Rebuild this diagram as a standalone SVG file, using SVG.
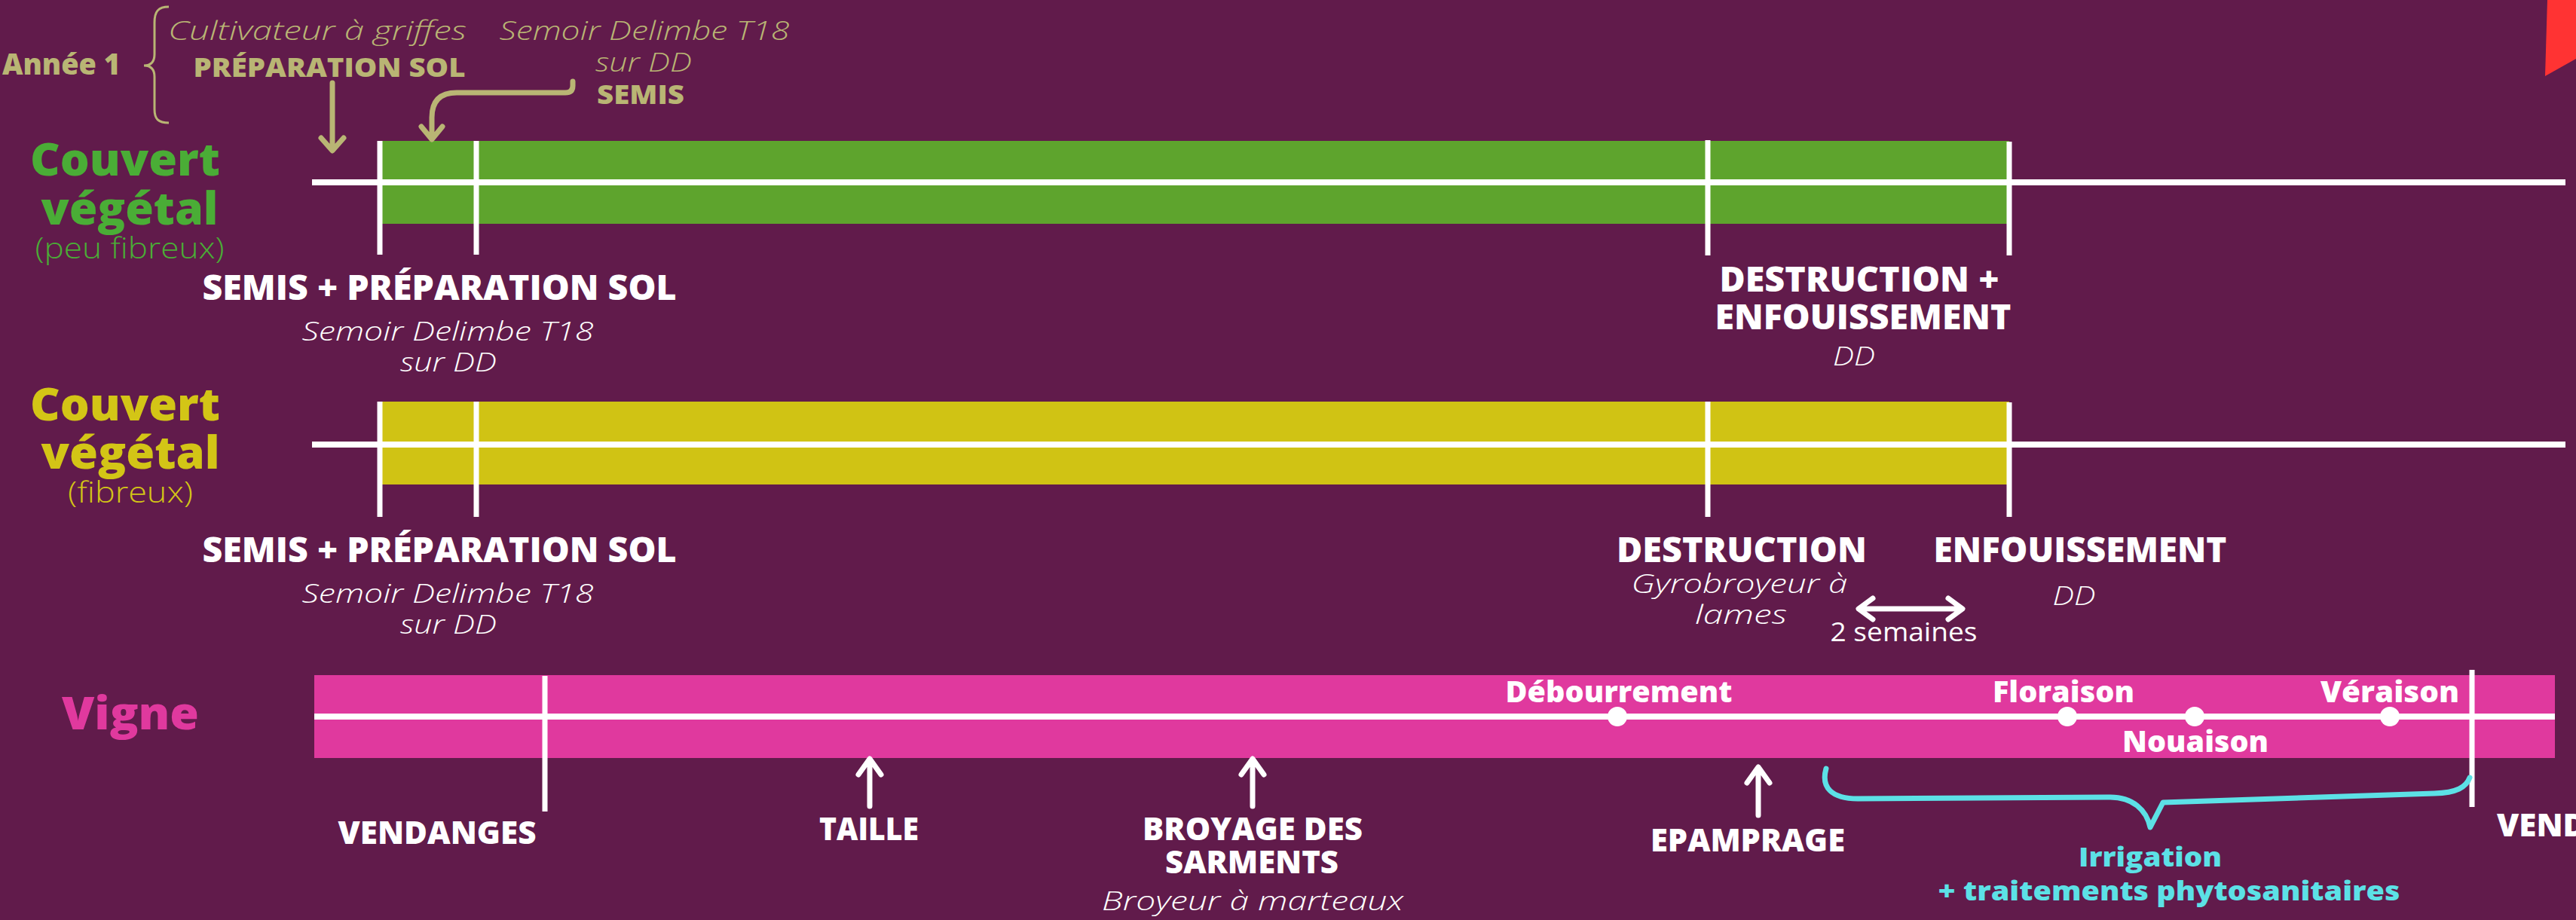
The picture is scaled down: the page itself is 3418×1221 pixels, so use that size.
<svg xmlns="http://www.w3.org/2000/svg" width="3418" height="1221" viewBox="0 0 3418 1221">
<style>
text { font-family: "Open Sans", "Liberation Sans", sans-serif; }
.b { font-weight: 800; }
.it { font-style: italic; font-weight: 300; }
.l { font-weight: 300; }
.r { font-weight: 400; }
.w { fill: #ffffff; }
.k { fill: #B9B574; }
.g { fill: #4AAD36; }
.y { fill: #D3C516; }
.p { fill: #E0399E; }
.c { fill: #5CE1E6; }
.m { text-anchor: middle; }
.axis { stroke: #ffffff; stroke-width: 8; }
.tick { stroke: #ffffff; stroke-width: 7; }
.arrW { stroke: #ffffff; stroke-width: 7; fill: none; stroke-linecap: round; stroke-linejoin: round; }
.arrK { stroke: #B9B574; stroke-width: 7; fill: none; stroke-linecap: round; stroke-linejoin: round; }
.dot { fill: #ffffff; }
</style>
<rect x="0" y="0" width="3418" height="1221" fill="#611B4B"/>
<polygon points="3380,0 3418,0 3418,78 3377,101" fill="#FF3333"/>

<g id="annee1">
<text class="b k" x="3" y="99" font-size="38" textLength="157" lengthAdjust="spacingAndGlyphs">Année 1</text>
<path d="M224,9 C210,9 205,15 205,30 L205,72 C205,82 200,87 191,87 C200,87 205,92 205,102 L205,145 C205,158 210,163 224,163" fill="none" stroke="#B9B574" stroke-width="3"/>
<text class="it k m" x="421" y="53" font-size="35" textLength="396" lengthAdjust="spacingAndGlyphs">Cultivateur à griffes</text>
<text class="b k m" x="437" y="102" font-size="36" textLength="361" lengthAdjust="spacingAndGlyphs">PRÉPARATION SOL</text>
<text class="it k m" x="855" y="53" font-size="35" textLength="385" lengthAdjust="spacingAndGlyphs">Semoir Delimbe T18</text>
<text class="it k m" x="854" y="95" font-size="35" textLength="128" lengthAdjust="spacingAndGlyphs">sur DD</text>
<text class="b k m" x="850" y="138" font-size="35" textLength="116" lengthAdjust="spacingAndGlyphs">SEMIS</text>
</g>

<g id="label-couvert-peu-fibreux">
<text class="b g m" x="166" y="233" font-size="60" textLength="252" lengthAdjust="spacingAndGlyphs">Couvert</text>
<text class="b g m" x="172" y="298" font-size="60" textLength="235" lengthAdjust="spacingAndGlyphs">végétal</text>
<text class="l g m" x="172" y="343" font-size="38" textLength="251" lengthAdjust="spacingAndGlyphs">(peu fibreux)</text>
</g>

<g id="label-couvert-fibreux">
<text class="b y m" x="166" y="558" font-size="60" textLength="252" lengthAdjust="spacingAndGlyphs">Couvert</text>
<text class="b y m" x="173" y="622" font-size="60" textLength="237" lengthAdjust="spacingAndGlyphs">végétal</text>
<text class="l y m" x="173" y="667" font-size="38" textLength="166" lengthAdjust="spacingAndGlyphs">(fibreux)</text>
</g>

<g id="label-vigne">
<text class="b p m" x="173" y="968" font-size="60" textLength="182" lengthAdjust="spacingAndGlyphs">Vigne</text>
</g>

<g id="track-couvert-peu-fibreux">
<rect x="504" y="187" width="2162" height="110" fill="#5EA42D"/>
<line class="axis" x1="414" y1="242" x2="3404" y2="242"/>
<line class="tick" x1="504" y1="187" x2="504" y2="338"/>
<line class="tick" x1="632" y1="187" x2="632" y2="338"/>
<line class="tick" x1="2266" y1="186" x2="2266" y2="339"/>
<line class="tick" x1="2666" y1="188" x2="2666" y2="339"/>
</g>

<g id="track-couvert-fibreux">
<rect x="504" y="533" width="2162" height="110" fill="#D0C314"/>
<line class="axis" x1="414" y1="590" x2="3404" y2="590"/>
<line class="tick" x1="504" y1="533" x2="504" y2="686"/>
<line class="tick" x1="632" y1="533" x2="632" y2="686"/>
<line class="tick" x1="2266" y1="533" x2="2266" y2="686"/>
<line class="tick" x1="2666" y1="534" x2="2666" y2="686"/>
</g>

<g id="track-vigne">
<rect x="417" y="896" width="2973" height="110" fill="#E0399E"/>
<line class="axis" x1="417" y1="951" x2="3390" y2="951"/>
<line class="tick" x1="723" y1="897" x2="723" y2="1077"/>
<line class="tick" x1="3280" y1="889" x2="3280" y2="1071"/>
<circle class="dot" cx="2146" cy="951" r="13"/>
<circle class="dot" cx="2743" cy="951" r="13"/>
<circle class="dot" cx="2912" cy="951" r="13"/>
<circle class="dot" cx="3171" cy="951" r="13"/>
</g>

<g id="evt-semis-1">
<text class="b w m" x="583" y="398" font-size="46" textLength="629" lengthAdjust="spacingAndGlyphs">SEMIS + PRÉPARATION SOL</text>
<text class="it w m" x="594" y="452" font-size="35" textLength="387" lengthAdjust="spacingAndGlyphs">Semoir Delimbe T18</text>
<text class="it w m" x="595" y="493" font-size="35" textLength="128" lengthAdjust="spacingAndGlyphs">sur DD</text>
</g>
<g id="evt-destruction-1">
<text class="b w m" x="2467" y="387" font-size="46" textLength="371" lengthAdjust="spacingAndGlyphs">DESTRUCTION +</text>
<text class="b w m" x="2472" y="437" font-size="46" textLength="393" lengthAdjust="spacingAndGlyphs">ENFOUISSEMENT</text>
<text class="it w m" x="2460" y="485" font-size="35" textLength="56" lengthAdjust="spacingAndGlyphs">DD</text>
</g>

<g id="evt-semis-2">
<text class="b w m" x="583" y="746" font-size="46" textLength="629" lengthAdjust="spacingAndGlyphs">SEMIS + PRÉPARATION SOL</text>
<text class="it w m" x="594" y="800" font-size="35" textLength="387" lengthAdjust="spacingAndGlyphs">Semoir Delimbe T18</text>
<text class="it w m" x="595" y="841" font-size="35" textLength="128" lengthAdjust="spacingAndGlyphs">sur DD</text>
</g>
<g id="evt-destruction-2">
<text class="b w m" x="2311" y="746" font-size="46" textLength="332" lengthAdjust="spacingAndGlyphs">DESTRUCTION</text>
<text class="it w m" x="2308" y="787" font-size="35" textLength="287" lengthAdjust="spacingAndGlyphs">Gyrobroyeur à</text>
<text class="it w m" x="2310" y="828" font-size="35" textLength="122" lengthAdjust="spacingAndGlyphs">lames</text>
</g>
<g id="evt-enfouissement-2">
<text class="b w m" x="2760" y="746" font-size="46" textLength="389" lengthAdjust="spacingAndGlyphs">ENFOUISSEMENT</text>
<text class="it w m" x="2752" y="803" font-size="35" textLength="57" lengthAdjust="spacingAndGlyphs">DD</text>
</g>
<g id="delai-2-semaines">
<text class="r w m" x="2526" y="851" font-size="34" textLength="195" lengthAdjust="spacingAndGlyphs">2 semaines</text>
</g>

<g id="evt-vendanges-1">
<text class="b w m" x="580" y="1120" font-size="42" textLength="263" lengthAdjust="spacingAndGlyphs">VENDANGES</text>
</g>
<g id="evt-taille">
<text class="b w m" x="1153" y="1115" font-size="42" textLength="132" lengthAdjust="spacingAndGlyphs">TAILLE</text>
</g>
<g id="evt-broyage">
<text class="b w m" x="1662" y="1115" font-size="42" textLength="292" lengthAdjust="spacingAndGlyphs">BROYAGE DES</text>
<text class="b w m" x="1661" y="1159" font-size="42" textLength="230" lengthAdjust="spacingAndGlyphs">SARMENTS</text>
<text class="it w m" x="1662" y="1208" font-size="35" textLength="400" lengthAdjust="spacingAndGlyphs">Broyeur à marteaux</text>
</g>
<g id="evt-epamprage">
<text class="b w m" x="2319" y="1130" font-size="42" textLength="258" lengthAdjust="spacingAndGlyphs">EPAMPRAGE</text>
</g>
<g id="evt-vendanges-2">
<text class="b w" x="3313" y="1110" font-size="42" textLength="263" lengthAdjust="spacingAndGlyphs">VENDANGES</text>
</g>
<g id="stade-debourrement">
<text class="b w m" x="2148" y="932" font-size="38" textLength="301" lengthAdjust="spacingAndGlyphs">Débourrement</text>
</g>
<g id="stade-floraison">
<text class="b w m" x="2738" y="932" font-size="38" textLength="188" lengthAdjust="spacingAndGlyphs">Floraison</text>
</g>
<g id="stade-nouaison">
<text class="b w m" x="2913" y="998" font-size="38" textLength="194" lengthAdjust="spacingAndGlyphs">Nouaison</text>
</g>
<g id="stade-veraison">
<text class="b w m" x="3171" y="932" font-size="38" textLength="184" lengthAdjust="spacingAndGlyphs">Véraison</text>
</g>
<g id="irrigation">
<text class="b c m" x="2853" y="1150" font-size="36" textLength="190" lengthAdjust="spacingAndGlyphs">Irrigation</text>
<text class="b c m" x="2878" y="1195" font-size="36" textLength="613" lengthAdjust="spacingAndGlyphs">+ traitements phytosanitaires</text>
</g>

<g id="connectors">
<path class="arrK" d="M441,110 L441,199 M426,183 L441,200 L456,183"/>
<path class="arrK" d="M760,108 L760,114 Q760,123 750,123 L606,123 Q573,123 573,156 L573,184 M559,168 L573,185 L587,168"/>
<path class="arrW" d="M1154,1070 L1154,1009 M1139,1028 L1154,1007 L1169,1028"/>
<path class="arrW" d="M1662,1070 L1662,1009 M1647,1028 L1662,1007 L1677,1028"/>
<path class="arrW" d="M2333,1082 L2333,1020 M2318,1039 L2333,1018 L2348,1039"/>
<path class="arrW" stroke-width="8" d="M2467,808 L2603,808 M2485,794 L2466,808 L2485,822 M2585,794 L2604,808 L2585,822"/>
<path d="M2423,1020 C2416,1045 2430,1060 2465,1060 L2800,1058 C2830,1058 2848,1075 2853,1098 L2870,1065 L3230,1053 C3260,1052 3272,1045 3277,1032" fill="none" stroke="#5CE1E6" stroke-width="7" stroke-linecap="round" stroke-linejoin="round"/>
</g>
</svg>
